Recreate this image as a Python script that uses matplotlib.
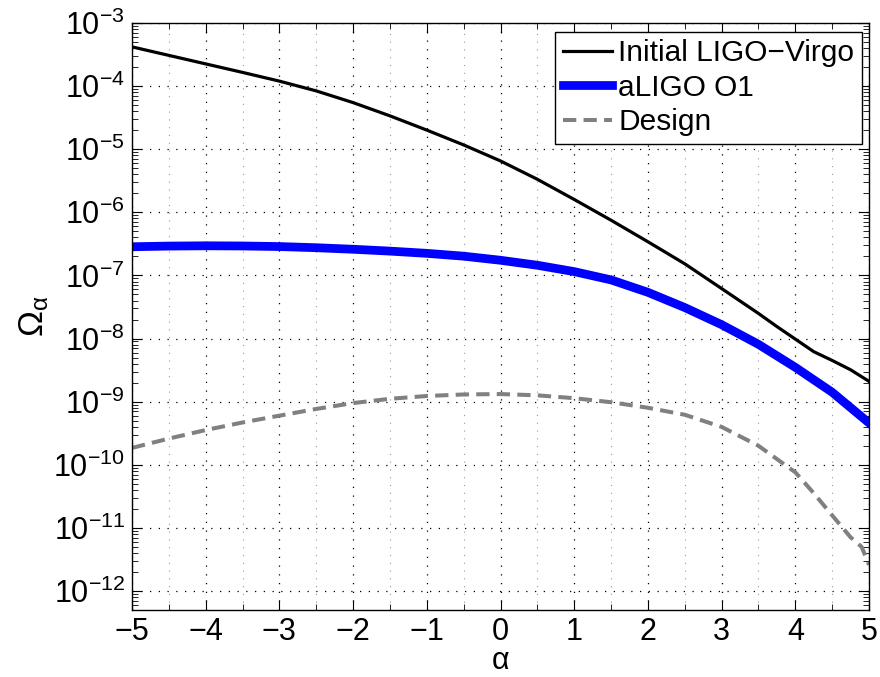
import matplotlib
matplotlib.use("Agg")
import matplotlib.pyplot as plt
from matplotlib.ticker import LogLocator, MultipleLocator, NullFormatter

plt.rcParams['font.family'] = ['Liberation Sans', 'DejaVu Sans']
plt.rcParams['mathtext.fontset'] = 'custom'
plt.rcParams['mathtext.rm'] = 'Liberation Sans'
plt.rcParams['mathtext.it'] = 'Liberation Sans:italic'

# Initial LIGO-Virgo
alpha_ini = [-5, -4.5, -4, -3.5, -3, -2.5, -2, -1.5, -1, -0.5, 0, 0.5, 1, 1.5,
             2, 2.5, 3, 3.5, 3.75, 4, 4.25, 4.5, 4.75, 5]
omega_ini = [4.19e-4, 3.07e-4, 2.25e-4, 1.65e-4, 1.20e-4, 8.4e-5, 5.48e-5, 3.38e-5,
             2.01e-5, 1.17e-5, 6.52e-6, 3.34e-6, 1.60e-6, 7.5e-7, 3.42e-7, 1.53e-7,
             6.2e-8, 2.5e-8, 1.55e-8, 9.8e-9, 6.2e-9, 4.5e-9, 3.2e-9, 2.1e-9]

# aLIGO O1
alpha_o1 = [-5, -4.5, -4, -3.5, -3, -2.5, -2, -1.5, -1, -0.5, 0, 0.5, 1, 1.5,
            2, 2.5, 3, 3.5, 4, 4.5, 5]
omega_o1 = [2.85e-7, 2.92e-7, 2.95e-7, 2.93e-7, 2.87e-7, 2.75e-7, 2.60e-7, 2.43e-7,
            2.24e-7, 2.02e-7, 1.74e-7, 1.45e-7, 1.15e-7, 8.5e-8, 5.4e-8, 3.1e-8,
            1.66e-8, 8.1e-9, 3.5e-9, 1.41e-9, 4.6e-10]

# Design
alpha_des = [-5, -4.5, -4, -3.5, -3, -2.5, -2, -1.5, -1, -0.5, 0, 0.5, 1, 1.5,
             2, 2.5, 3, 3.5, 4, 4.25, 4.5, 4.75, 4.9, 5]
omega_des = [1.85e-10, 2.6e-10, 3.55e-10, 4.68e-10, 6.0e-10, 7.67e-10, 9.5e-10,
             1.11e-9, 1.23e-9, 1.30e-9, 1.32e-9, 1.26e-9, 1.135e-9, 9.8e-10,
             8.0e-10, 6.2e-10, 3.98e-10, 2.0e-10, 7.6e-11, 3.55e-11, 1.58e-11,
             7.1e-12, 5.0e-12, 2.6e-12]

xtick_vals = list(range(-5, 6))
xtick_text = ['\u22125', '\u22124', '\u22123', '\u22122', '\u22121', '0', '1', '2', '3', '4', '5']

fig = plt.figure(figsize=(8.8, 6.77), dpi=100)
ax = fig.add_axes([0.15, 0.099, 0.8375, 0.867])

ax.semilogy(alpha_ini, omega_ini, color='black', lw=2.3, label='Initial LIGO\u2212Virgo')
ax.semilogy(alpha_o1, omega_o1, color='#0000ff', lw=6.3, label='aLIGO O1')
ax.semilogy(alpha_des, omega_des, color='#808080', lw=2.9, dashes=(3.3, 1.8), label='Design')

ax.set_xlim(-5, 5)
ax.set_ylim(5e-13, 1e-3)
ax.set_xticks(xtick_vals)
ax.set_xticklabels(xtick_text)
ax.xaxis.set_minor_locator(MultipleLocator(0.5))
ax.yaxis.set_major_locator(LogLocator(base=10, numticks=20))
ax.yaxis.set_minor_locator(LogLocator(base=10, subs=range(2, 10), numticks=20))
ax.yaxis.set_minor_formatter(NullFormatter())

ax.tick_params(which='both', direction='in', top=True, right=True)
ax.tick_params(axis='x', labelsize=22, pad=5)
ax.tick_params(axis='y', labelsize=22, pad=5)
ax.tick_params(which='major', length=7, width=0.8)
ax.tick_params(which='minor', length=4, width=0.6)

ax.grid(which='major', axis='both', color='black', linestyle=(0, (1, 6)), linewidth=0.9)
ax.grid(which='minor', axis='x', color='#999999', linestyle=(0, (1, 6)), linewidth=0.8)
for s in ax.spines.values():
    s.set_linewidth(1.0)

ax.set_xlabel('\u03b1', fontsize=22, labelpad=-1)
ax.set_ylabel('$\\mathregular{\u03a9_\u03b1}$', fontsize=25, labelpad=2)

leg = ax.legend(loc='upper right', bbox_to_anchor=(0.990, 0.985), fontsize=21.5,
                frameon=True, fancybox=False, framealpha=1, edgecolor='black',
                handlelength=1.65, handletextpad=0.2, borderpad=0.25,
                labelspacing=0.22, borderaxespad=0.0)
leg.get_frame().set_linewidth(1.0)

fig.savefig('out.png', dpi=100)
